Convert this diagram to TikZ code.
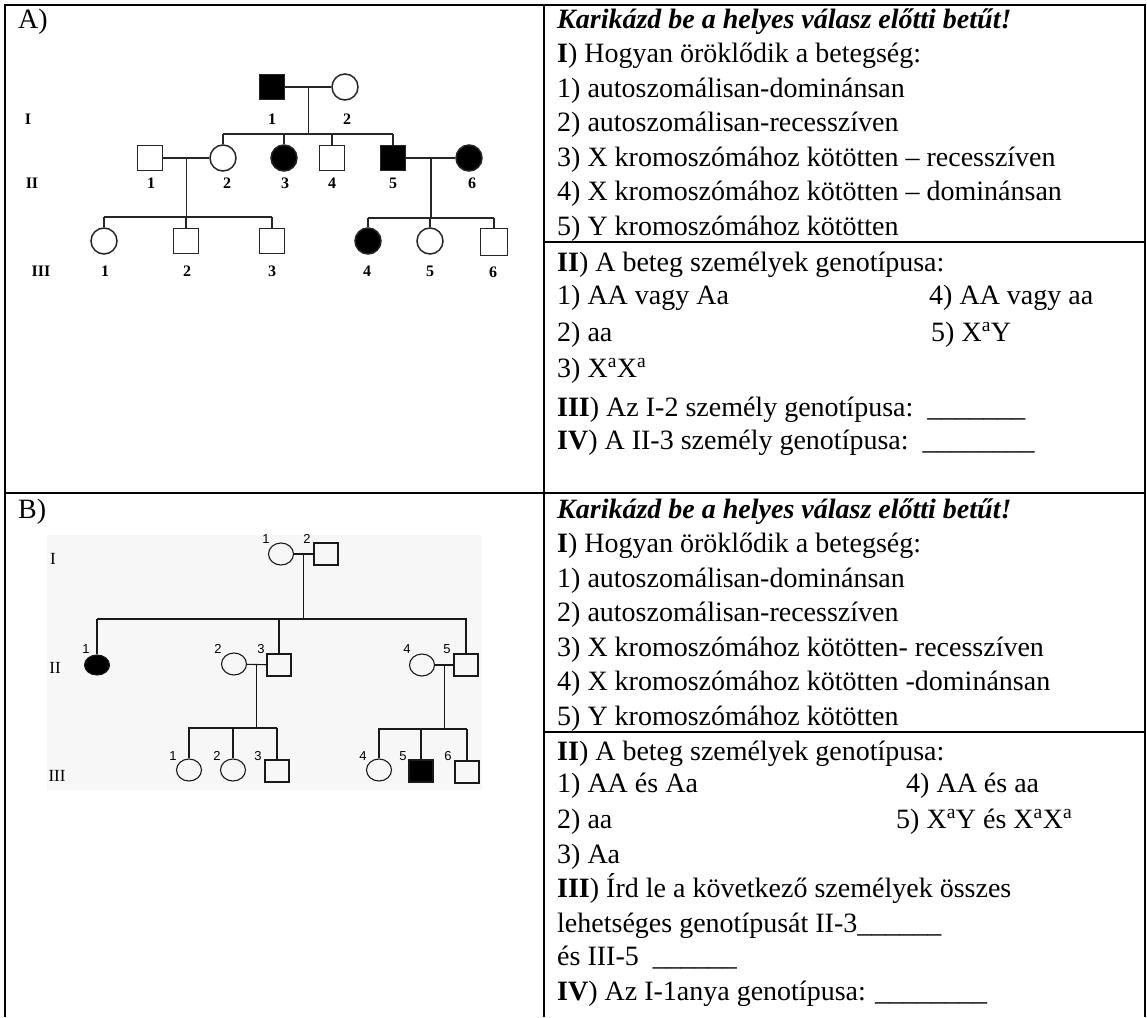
\documentclass[tikz,border=0pt]{standalone}
\usepackage{fontspec}
\setmainfont{Liberation Serif}
\newfontfamily\pedsans{Liberation Sans}
\usetikzlibrary{shapes.geometric,calc}
\tikzset{
  frameline/.style={line width=2.6pt},
  pedA/.style={line width=1.5pt, draw=black!85},
  pedB/.style={line width=1.1pt, draw=black!90},
  maleA/.style={draw=black!85, line width=1.5pt, rectangle, minimum size=25pt, inner sep=0pt},
  femaleA/.style={draw=black!85, line width=1.5pt, circle, minimum size=26pt, inner sep=0pt},
  maleB/.style={draw=black!90, line width=1.1pt, rectangle, minimum width=24pt, minimum height=22pt, inner sep=0pt},
  femaleB/.style={draw=black!90, line width=1.1pt, ellipse, minimum width=25pt, minimum height=22pt, inner sep=0pt},
  aff/.style={fill=black},
  txt/.style={anchor=base west, inner sep=0pt, font=\fontsize{28}{34}\selectfont},
  numA/.style={anchor=base, inner sep=0pt, font=\fontsize{16}{18}\selectfont\bfseries},
  numB/.style={anchor=base, inner sep=0pt, font=\pedsans\fontsize{13}{15}\selectfont},
  romB/.style={anchor=base, inner sep=0pt, font=\fontsize{17}{19}\selectfont}
}
\begin{document}
\begin{tikzpicture}[x=1pt,y=-1pt]
\useasboundingbox (0,0) rectangle (1147,1017);
% ---------- frame ----------
\draw[frameline] (5,1017) -- (5,5) -- (1145,5) -- (1145,1017);
\draw[frameline] (544,5) -- (544,1017);
\draw[frameline] (5,493) -- (1145,493);
\draw[frameline] (544,242) -- (1145,242);
\draw[frameline] (544,732) -- (1145,732);

% ---------- section labels ----------
\node[txt] (labA) at (18,28) {A)};
\node[txt] (labB) at (18,518) {B)};

% ---------- pedigree A ----------
\node[maleA,aff] (AI1) at (272,87) {};
\node[femaleA] (AI2) at (345,87) {};
\node[maleA] (AII1) at (150,158) {};
\node[femaleA] (AII2) at (223,158) {};
\node[femaleA,aff] (AII3) at (284,158) {};
\node[maleA] (AII4) at (332,158) {};
\node[maleA,aff] (AII5) at (393,158) {};
\node[femaleA,aff] (AII6) at (469,158) {};
\node[femaleA] (AIII1) at (104,241) {};
\node[maleA] (AIII2) at (186,241) {};
\node[maleA] (AIII3) at (272,241) {};
\node[femaleA,aff] (AIII4) at (368,241) {};
\node[femaleA] (AIII5) at (430,241) {};
\node[maleA,minimum size=27pt] (AIII6) at (494,242) {};

\coordinate (AsIIL) at (223,134);
\coordinate (AsIIR) at (393,134);
\coordinate (AsIIIaL) at (104,217);
\coordinate (AsIIIaR) at (272,217);
\coordinate (AsIIIbL) at (368,218);
\coordinate (AsIIIbR) at (494,218);

\draw[pedA] (AI1) -- (AI2);
\coordinate (Am1) at ($(AI1.east)!.5!(AI2.west)$);
\draw[pedA] (Am1) -- (Am1 |- AsIIL);
\draw[pedA] (AsIIL) -- (AsIIR);
\draw[pedA] (AII2) -- (AII2 |- AsIIL);
\draw[pedA] (AII3) -- (AII3 |- AsIIL);
\draw[pedA] (AII4) -- (AII4 |- AsIIL);
\draw[pedA] (AII5) -- (AII5 |- AsIIL);

\draw[pedA] (AII1) -- (AII2);
\coordinate (Am2) at ($(AII1.east)!.5!(AII2.west)$);
\draw[pedA] (Am2) -- (Am2 |- AsIIIaL);
\draw[pedA] (AsIIIaL) -- (AsIIIaR);
\draw[pedA] (AIII1) -- (AIII1 |- AsIIIaL);
\draw[pedA] (AIII2) -- (AIII2 |- AsIIIaL);
\draw[pedA] (AIII3) -- (AIII3 |- AsIIIaL);

\draw[pedA] (AII5) -- (AII6);
\coordinate (Am3) at ($(AII5.east)!.5!(AII6.west)$);
\draw[pedA] (Am3) -- (Am3 |- AsIIIbL);
\draw[pedA] (AsIIIbL) -- (AsIIIbR);
\draw[pedA] (AIII4) -- (AIII4 |- AsIIIbL);
\draw[pedA] (AIII5) -- (AIII5 |- AsIIIbL);
\draw[pedA] (AIII6) -- (AIII6 |- AsIIIbL);

\node[numA] (ArI) at (28,124) {I};
\node[numA] (ArII) at (32,188) {II};
\node[numA] (ArIII) at (41,276) {III};
\node[numA] (An11) at (272,124) {1};
\node[numA] (An12) at (347,124) {2};
\node[numA] (An21) at (151,188) {1};
\node[numA] (An22) at (227,188) {2};
\node[numA] (An23) at (285,188) {3};
\node[numA] (An24) at (332,188) {4};
\node[numA] (An25) at (393,188) {5};
\node[numA] (An26) at (472,188) {6};
\node[numA] (An31) at (105,276) {1};
\node[numA] (An32) at (187,276) {2};
\node[numA] (An33) at (272,276) {3};
\node[numA] (An34) at (367,276) {4};
\node[numA] (An35) at (430,276) {5};
\node[numA] (An36) at (493,277) {6};

% ---------- pedigree B ----------
\fill[black!3] (47,535) rectangle (482,790);
\node[femaleB] (BI1) at (281,554) {};
\node[maleB] (BI2) at (326,554) {};
\node[femaleB,aff,minimum height=20pt] (BII1) at (97,665) {};
\node[femaleB] (BII2) at (234,664) {};
\node[maleB] (BII3) at (279,665) {};
\node[femaleB] (BII4) at (422,665) {};
\node[maleB] (BII5) at (466,665) {};
\node[femaleB] (BIII1) at (189,770) {};
\node[femaleB] (BIII2) at (233,770) {};
\node[maleB] (BIII3) at (277,771) {};
\node[femaleB] (BIII4) at (379,770) {};
\node[maleB,aff] (BIII5) at (421,771) {};
\node[maleB] (BIII6) at (467,772) {};

\coordinate (BsIIL) at (97,619);
\coordinate (BsIIR) at (467,619);
\coordinate (BsIIIaL) at (188,728);
\coordinate (BsIIIaR) at (277,728);
\coordinate (BsIIIbL) at (378,729);
\coordinate (BsIIIbR) at (467,729);

\draw[pedB] (BI1) -- (BI2);
\coordinate (Bm1) at ($(BI1.east)!.5!(BI2.west)$);
\draw[pedB] (Bm1) -- (Bm1 |- BsIIL);
\draw[pedB] (BsIIL) -- (BsIIR);
\draw[pedB] (BII1) -- (BII1 |- BsIIL);
\draw[pedB] (BII3) -- (BII3 |- BsIIL);
\draw[pedB] (BII5) -- (BII5 |- BsIIL);

\draw[pedB] (BII2) -- (BII3);
\coordinate (Bm2) at ($(BII2.east)!.5!(BII3.west)$);
\draw[pedB] (Bm2) -- (Bm2 |- BsIIIaL);
\draw[pedB] (BsIIIaL) -- (BsIIIaR);
\draw[pedB] (BIII1) -- (BIII1 |- BsIIIaL);
\draw[pedB] (BIII2) -- (BIII2 |- BsIIIaL);
\draw[pedB] (BIII3) -- (BIII3 |- BsIIIaL);

\draw[pedB] (BII4) -- (BII5);
\coordinate (Bm3) at ($(BII4.east)!.5!(BII5.west)$);
\draw[pedB] (Bm3) -- (Bm3 |- BsIIIbL);
\draw[pedB] (BsIIIbL) -- (BsIIIbR);
\draw[pedB] (BIII4) -- (BIII4 |- BsIIIbL);
\draw[pedB] (BIII5) -- (BIII5 |- BsIIIbL);
\draw[pedB] (BIII6) -- (BIII6 |- BsIIIbL);

\node[romB] (BrI) at (53,564) {I};
\node[romB] (BrII) at (55,673) {II};
\node[romB] (BrIII) at (57,781) {III};
\node[numB] (Bn11) at (266,543) {1};
\node[numB] (Bn12) at (307,543) {2};
\node[numB] (Bn21) at (86,653) {1};
\node[numB] (Bn22) at (218,653) {2};
\node[numB] (Bn23) at (261,653) {3};
\node[numB] (Bn24) at (407,653) {4};
\node[numB] (Bn25) at (447,653) {5};
\node[numB] (Bn31) at (173,760) {1};
\node[numB] (Bn32) at (217,760) {2};
\node[numB] (Bn33) at (258,760) {3};
\node[numB] (Bn34) at (363,760) {4};
\node[numB] (Bn35) at (403,760) {5};
\node[numB] (Bn36) at (448,760) {6};

% ---------- text A ----------
\node[txt] (tA1) at (557,28) {\textbf{\textit{Karikázd be a helyes válasz előtti betűt!}}};
\node[txt] (tA2) at (557,62.5) {\textbf{I}) Hogyan öröklődik a betegség:};
\node[txt] (tA3) at (557,97) {1) autoszomálisan-dominánsan};
\node[txt] (tA4) at (557,131.5) {2) autoszomálisan-recesszíven};
\node[txt] (tA5) at (557,166) {3) X kromoszómához kötötten – recesszíven};
\node[txt] (tA6) at (557,200.5) {4) X kromoszómához kötötten – dominánsan};
\node[txt] (tA7) at (557,235) {5) Y kromoszómához kötötten};
\node[txt] (tA8) at (557,271) {\textbf{II}) A beteg személyek genotípusa:};
\node[txt] (tA9) at (557,304) {1) AA vagy Aa};
\node[txt] (tA10) at (929,304) {4) AA vagy aa};
\node[txt] (tA11) at (557,341) {2) aa};
\node[txt] (tA12) at (931,341) {5) X\textsuperscript{a}Y};
\node[txt] (tA13) at (557,377) {3) X\textsuperscript{a}X\textsuperscript{a}};
\node[txt] (tA14) at (557,416) {\textbf{III}) Az I-2 személy genotípusa:\ \ \_\_\_\_\_\_\_};
\node[txt] (tA15) at (557,449) {\textbf{IV}) A II-3 személy genotípusa:\ \ \_\_\_\_\_\_\_\_};

% ---------- text B ----------
\node[txt] (tB1) at (557,518) {\textbf{\textit{Karikázd be a helyes válasz előtti betűt!}}};
\node[txt] (tB2) at (557,552) {\textbf{I}) Hogyan öröklődik a betegség:};
\node[txt] (tB3) at (557,587) {1) autoszomálisan-dominánsan};
\node[txt] (tB4) at (557,621) {2) autoszomálisan-recesszíven};
\node[txt] (tB5) at (557,656) {3) X kromoszómához kötötten- recesszíven};
\node[txt] (tB6) at (557,690) {4) X kromoszómához kötötten -dominánsan};
\node[txt] (tB7) at (557,725) {5) Y kromoszómához kötötten};
\node[txt] (tB8) at (557,760) {\textbf{II}) A beteg személyek genotípusa:};
\node[txt] (tB9) at (557,792) {1) AA és Aa};
\node[txt] (tB10) at (906,792) {4) AA és aa};
\node[txt] (tB11) at (557,828) {2) aa};
\node[txt] (tB12) at (896,828) {5) X\textsuperscript{a}Y és X\textsuperscript{a}X\textsuperscript{a}};
\node[txt] (tB13) at (557,863) {3) Aa};
\node[txt] (tB14) at (557,897) {\textbf{III}) Írd le a következő személyek összes};
\node[txt] (tB15) at (557,932) {lehetséges genotípusát II-3\_\_\_\_\_\_};
\node[txt] (tB16) at (557,965) {és III-5\ \ \_\_\_\_\_\_};
\node[txt] (tB17) at (557,1000) {\textbf{IV}) Az I-1anya genotípusa: \_\_\_\_\_\_\_\_};
\end{tikzpicture}
\end{document}
